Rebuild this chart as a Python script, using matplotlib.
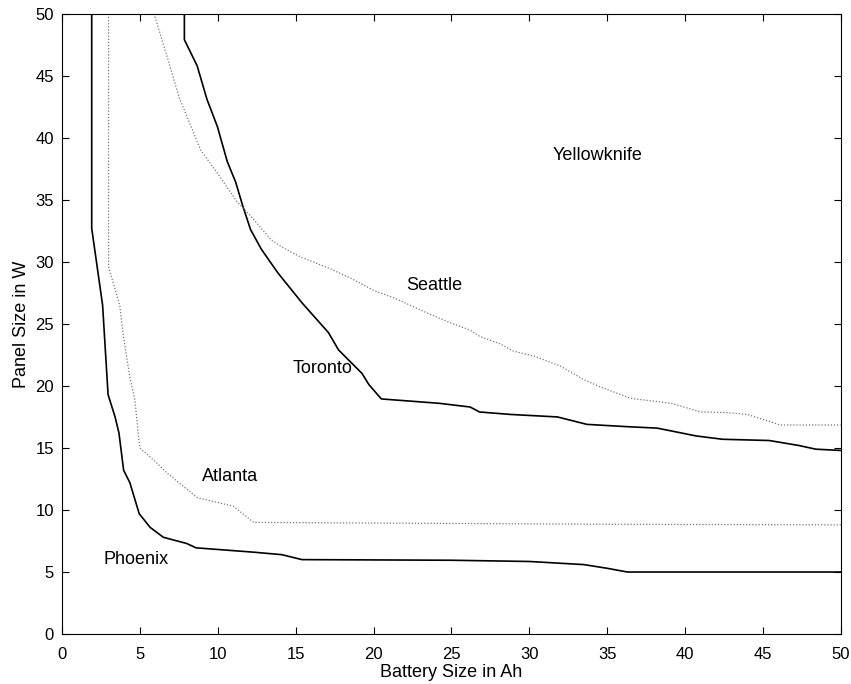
import matplotlib
matplotlib.use('Agg')
import matplotlib.pyplot as plt

plt.rcParams['font.family'] = ['Liberation Sans', 'DejaVu Sans']

# Phoenix (solid)
phoenix_x = [1.9, 1.9, 2.6, 2.95, 3.4, 3.65, 3.95, 4.35, 4.95, 5.65, 6.5, 8.0, 8.6, 12.3, 14.1, 15.4, 25.0, 30.0, 33.5, 35.0, 36.3, 50.0]
phoenix_y = [50.0, 32.7, 26.5, 19.3, 17.5, 16.2, 13.2, 12.2, 9.7, 8.6, 7.8, 7.3, 6.95, 6.6, 6.4, 6.0, 5.95, 5.85, 5.6, 5.3, 5.0, 5.0]

# Atlanta (dotted)
atlanta_x = [2.98, 2.98, 3.7, 3.9, 4.35, 4.67, 4.93, 5.0, 6.07, 6.72, 8.67, 11.0, 12.3, 20.0, 35.0, 50.0]
atlanta_y = [50.0, 29.6, 26.5, 24.3, 20.7, 18.9, 15.6, 15.0, 13.8, 13.0, 11.0, 10.3, 9.0, 8.95, 8.85, 8.8]

# Toronto (solid)
toronto_x = [7.85, 7.85, 8.67, 9.3, 9.97, 10.6, 11.15, 11.6, 12.1, 12.8, 13.86, 15.4, 17.1, 17.75, 19.26, 19.7, 20.5,
             24.2, 26.2, 26.8, 28.8, 31.8, 33.7, 36.5, 38.2, 39.4, 40.7, 42.4, 45.4, 47.3, 48.4, 50.0]
toronto_y = [50.0, 47.9, 45.8, 43.1, 40.9, 38.1, 36.4, 34.5, 32.6, 31.0, 29.1, 26.7, 24.3, 22.9, 21.0, 20.1, 18.95,
             18.6, 18.3, 17.9, 17.7, 17.5, 16.9, 16.7, 16.6, 16.3, 15.97, 15.7, 15.6, 15.2, 14.9, 14.8]

# Seattle (dotted)
seattle_x = [5.9, 6.8, 7.5, 8.9, 10.0, 11.2, 12.1, 13.4, 14.1, 15.3, 17.1, 18.5, 20.0, 21.3, 23.4, 24.9, 26.2, 26.8,
             28.1, 29.0, 30.3, 32.0, 33.5, 34.6, 36.5, 39.1, 41.0, 42.7, 44.0, 45.5, 46.1, 50.0]
seattle_y = [50.0, 46.3, 43.3, 39.0, 37.1, 34.9, 33.7, 31.8, 31.2, 30.4, 29.5, 28.7, 27.7, 27.1, 25.9, 25.1, 24.5, 24.0,
             23.4, 22.8, 22.4, 21.6, 20.5, 19.9, 19.0, 18.6, 17.9, 17.85, 17.7, 17.1, 16.85, 16.85]

cities = ['Yellowknife', 'Seattle', 'Toronto', 'Atlanta', 'Phoenix']
label_x = [34.4, 23.9, 16.7, 10.8, 4.76]
label_y = [38.6, 28.1, 21.4, 12.7, 6.0]

fig = plt.figure(figsize=(8.51, 6.84), dpi=100)
ax = fig.add_axes([0.073, 0.073, 0.915, 0.907])

ax.plot(phoenix_x, phoenix_y, color='black', lw=1.2)
ax.plot(toronto_x, toronto_y, color='black', lw=1.2)
ax.plot(atlanta_x, atlanta_y, color='#777777', lw=0.9, ls=(0, (1, 1.5)))
ax.plot(seattle_x, seattle_y, color='#777777', lw=0.9, ls=(0, (1, 1.5)))

for name, x, y in zip(cities, label_x, label_y):
    ax.text(x, y, name, fontsize=13, ha='center', va='center')

ax.set_xlim(0, 50)
ax.set_ylim(0, 50)
ax.set_xticks(range(0, 51, 5))
ax.set_yticks(range(0, 51, 5))
ax.tick_params(direction='in', top=True, right=True, labelsize=12, length=5)
ax.tick_params(axis='x', pad=9)
ax.tick_params(axis='y', pad=6)
ax.set_xlabel('Battery Size in Ah', fontsize=13, labelpad=2)
ax.set_ylabel('Panel Size in W', fontsize=13, labelpad=4)

fig.savefig('out.png', dpi=100)
